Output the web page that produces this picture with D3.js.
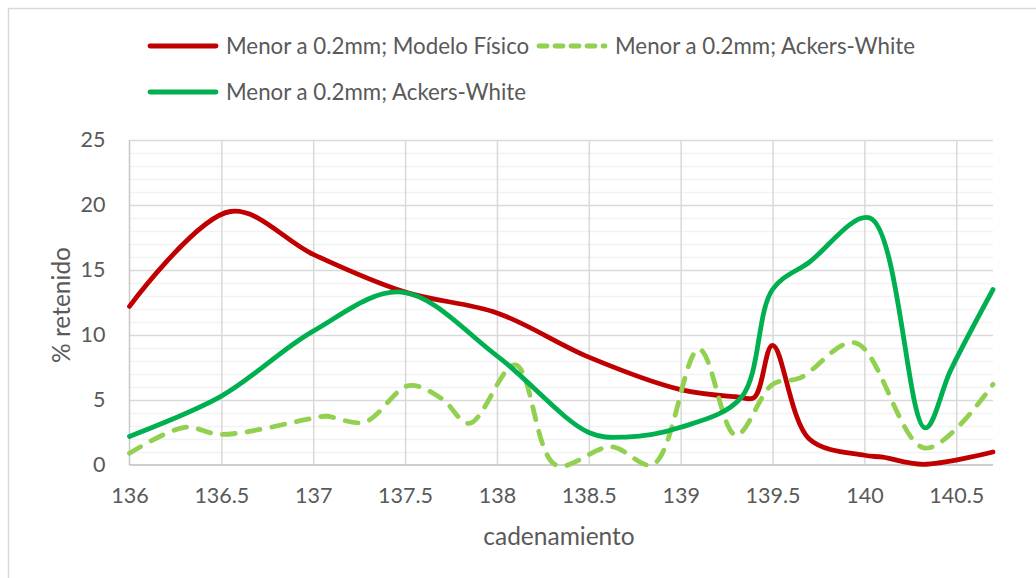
<!DOCTYPE html>
<html>
<head>
<meta charset="utf-8">
<script src="https://cdn.jsdelivr.net/npm/d3@7"></script>
<style>
  html, body { margin: 0; padding: 0; background: #ffffff; }
  svg { display: block; font-family: Lato, "Open Sans", sans-serif; }
</style>
</head>
<body>
<svg id="chart" width="1036" height="578"></svg>
<script>
// Cadenamiento (x) and % retenido (y) for each series
const fisicoX = [136.0, 136.55, 137.0, 137.5, 138.0, 138.5, 139.0, 139.3, 139.4, 139.5, 139.7, 140.0, 140.1, 140.32, 140.7];
const fisicoY = [12.2, 19.5, 16.2, 13.3, 11.7, 8.3, 5.8, 5.25, 5.2, 9.2, 2.0, 0.75, 0.6, 0.05, 1.0];

const ackersDashX = [136.0, 136.3, 136.5, 137.0, 137.07, 137.28, 137.52, 137.7, 137.85, 138.1, 138.32, 138.62, 138.85, 139.1, 139.3, 139.5, 139.65, 139.95, 140.33, 140.7];
const ackersDashY = [0.9, 2.9, 2.35, 3.6, 3.75, 3.3, 6.1, 5.1, 3.2, 7.7, 0.0, 1.4, 0.05, 8.9, 2.3, 6.2, 6.7, 9.4, 1.3, 6.2];

const ackersX = [136.0, 136.5, 137.0, 137.48, 138.0, 138.5, 138.7, 139.0, 139.33, 139.5, 139.7, 140.03, 140.33, 140.47, 140.7];
const ackersY = [2.2, 5.3, 10.3, 13.3, 8.4, 2.5, 2.15, 2.9, 5.2, 13.5, 15.6, 19.0, 2.85, 7.3, 13.5];

const xTicks = [136, 136.5, 137, 137.5, 138, 138.5, 139, 139.5, 140, 140.5];
const yTicks = [0, 5, 10, 15, 20, 25];
const yMinorTicks = d3.range(0, 26, 1);

const seriesNames = [
  "Menor a 0.2mm; Modelo Físico",
  "Menor a 0.2mm; Ackers-White",
  "Menor a 0.2mm; Ackers-White"
];

const series = [
  { name: seriesNames[0], xs: fisicoX, ys: fisicoY, color: "#c00000", dash: null },
  { name: seriesNames[1], xs: ackersDashX, ys: ackersDashY, color: "#92d050", dash: "13,12" },
  { name: seriesNames[2], xs: ackersX, ys: ackersY, color: "#00b050", dash: null }
];

const svg = d3.select("#chart");
const textColor = "#595959";

// Chart frame
svg.append("rect")
  .attr("x", 8.5).attr("y", 8.5)
  .attr("width", 1040).attr("height", 580)
  .attr("fill", "#ffffff")
  .attr("stroke", "#d9d9d9").attr("stroke-width", 1.5);

const plot = { left: 129.5, right: 993, top: 140, bottom: 465 };

const x = d3.scaleLinear().domain([136, 140.7]).range([plot.left, plot.right]);
const y = d3.scaleLinear().domain([0, 25]).range([plot.bottom, plot.top]);

const g = svg.append("g");

// Minor horizontal gridlines
g.append("g")
  .attr("transform", `translate(${plot.left},0)`)
  .call(d3.axisLeft(y).tickValues(yMinorTicks.filter(v => v % 5 !== 0))
    .tickSize(-(plot.right - plot.left)).tickFormat(""))
  .call(s => s.select(".domain").remove())
  .call(s => s.selectAll("line").attr("stroke", "#f2f2f2").attr("stroke-width", 1.5));

// Major horizontal gridlines
g.append("g")
  .attr("transform", `translate(${plot.left},0)`)
  .call(d3.axisLeft(y).tickValues(yTicks.filter(v => v > 0))
    .tickSize(-(plot.right - plot.left)).tickFormat(""))
  .call(s => s.select(".domain").remove())
  .call(s => s.selectAll("line").attr("stroke", "#d9d9d9").attr("stroke-width", 1.5));

// Vertical gridlines
g.append("g")
  .attr("transform", `translate(0,${plot.bottom})`)
  .call(d3.axisBottom(x).tickValues(xTicks.filter(v => v > 136))
    .tickSize(-(plot.bottom - plot.top)).tickFormat(""))
  .call(s => s.select(".domain").remove())
  .call(s => s.selectAll("line").attr("stroke", "#d9d9d9").attr("stroke-width", 1.5));

// Axis lines
g.append("line")
  .attr("x1", plot.left).attr("x2", plot.left)
  .attr("y1", plot.top).attr("y2", plot.bottom)
  .attr("stroke", "#c8c8c8").attr("stroke-width", 1.5);
g.append("line")
  .attr("x1", plot.left).attr("x2", plot.right)
  .attr("y1", plot.bottom).attr("y2", plot.bottom)
  .attr("stroke", "#bfbfbf").attr("stroke-width", 1.5);

// Tick labels
const yAxis = g.append("g")
  .attr("transform", `translate(${plot.left},0)`)
  .call(d3.axisLeft(y).tickValues(yTicks).tickSize(0).tickPadding(24).tickFormat(d3.format("d")));
yAxis.select(".domain").remove();
yAxis.selectAll("text").attr("fill", textColor).style("font-size", "21.5px").style("font-family", "Lato, sans-serif");

const xAxis = g.append("g")
  .attr("transform", `translate(0,${plot.bottom})`)
  .call(d3.axisBottom(x).tickValues(xTicks).tickSize(0).tickPadding(23).tickFormat(d => String(d)));
xAxis.select(".domain").remove();
xAxis.selectAll("text").attr("fill", textColor).style("font-size", "21.5px").style("font-family", "Lato, sans-serif");

// Axis titles
svg.append("text")
  .attr("x", 559).attr("y", 545)
  .attr("text-anchor", "middle")
  .attr("fill", textColor)
  .style("font-size", "24.5px")
  .text("cadenamiento");

svg.append("text")
  .attr("transform", "translate(70,305) rotate(-90)")
  .attr("text-anchor", "middle")
  .attr("fill", textColor)
  .style("font-size", "24.5px")
  .text("% retenido");

// Series lines
svg.append("clipPath").attr("id", "plotclip")
  .append("rect")
  .attr("x", plot.left - 5).attr("y", plot.top - 10)
  .attr("width", plot.right - plot.left + 10).attr("height", plot.bottom - plot.top + 20);

const line = d3.line()
  .x(d => x(d[0]))
  .y(d => y(d[1]))
  .curve(d3.curveCatmullRom.alpha(0.5));

series.forEach(s => {
  const pts = s.xs.map((v, i) => [v, s.ys[i]]);
  svg.append("path")
    .datum(pts)
    .attr("d", line)
    .attr("fill", "none")
    .attr("stroke", s.color)
    .attr("stroke-width", 4.8)
    .attr("stroke-linecap", "round")
    .attr("stroke-linejoin", "round")
    .attr("stroke-dasharray", s.dash)
    .attr("clip-path", "url(#plotclip)");
});

// Legend
const legendItems = [
  { s: series[0], lx: 150, ly: 46, tx: 226 },
  { s: series[1], lx: 539, ly: 46, tx: 615 },
  { s: series[2], lx: 150, ly: 92, tx: 226 }
];
legendItems.forEach(it => {
  svg.append("line")
    .attr("x1", it.lx).attr("x2", it.lx + 66)
    .attr("y1", it.ly).attr("y2", it.ly)
    .attr("stroke", it.s.color)
    .attr("stroke-width", 4.8)
    .attr("stroke-linecap", "round")
    .attr("stroke-dasharray", it.s.dash ? "8,8" : null);
  svg.append("text")
    .attr("x", it.tx).attr("y", it.ly + 8)
    .attr("fill", textColor)
    .style("font-size", "22.3px")
    .text(it.s.name);
});
</script>
</body>
</html>
